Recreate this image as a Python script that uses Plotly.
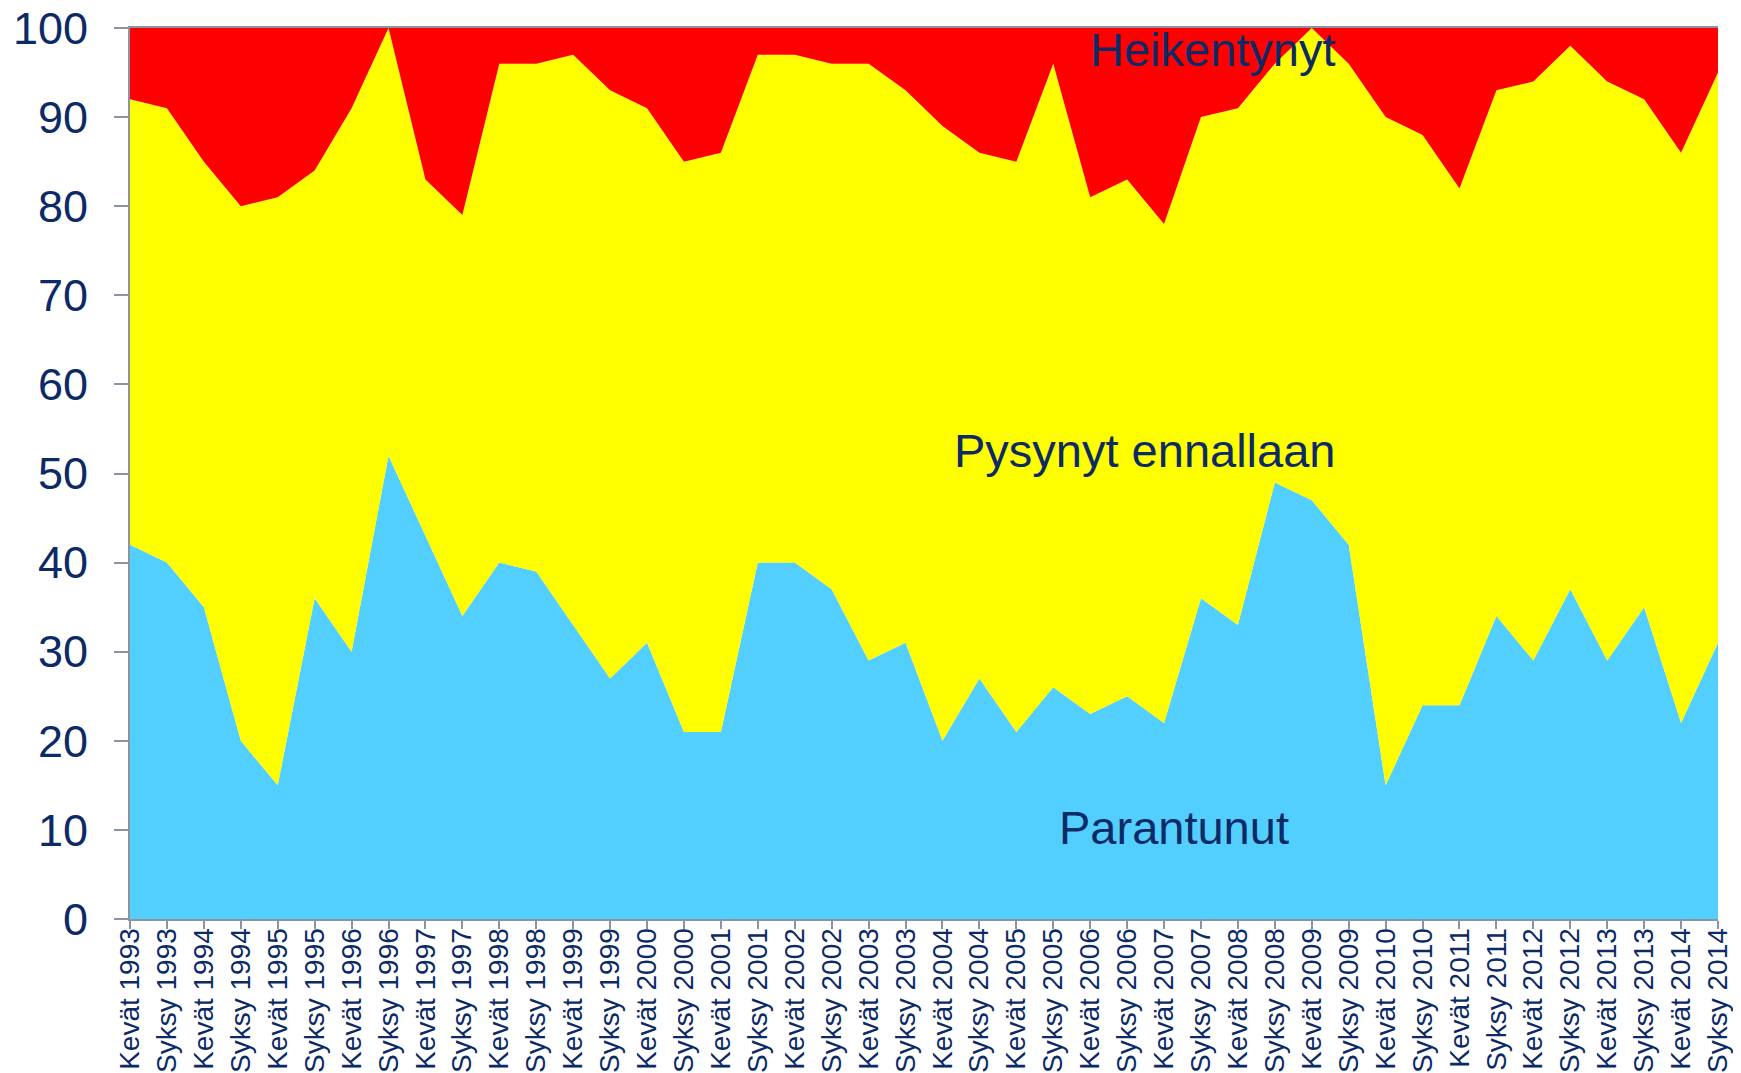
import plotly.graph_objects as go

categories = [
    "Kevät 1993", "Syksy 1993", "Kevät 1994", "Syksy 1994", "Kevät 1995", "Syksy 1995",
    "Kevät 1996", "Syksy 1996", "Kevät 1997", "Syksy 1997", "Kevät 1998", "Syksy 1998",
    "Kevät 1999", "Syksy 1999", "Kevät 2000", "Syksy 2000", "Kevät 2001", "Syksy 2001",
    "Kevät 2002", "Syksy 2002", "Kevät 2003", "Syksy 2003", "Kevät 2004", "Syksy 2004",
    "Kevät 2005", "Syksy 2005", "Kevät 2006", "Syksy 2006", "Kevät 2007", "Syksy 2007",
    "Kevät 2008", "Syksy 2008", "Kevät 2009", "Syksy 2009", "Kevät 2010", "Syksy 2010",
    "Kevät 2011", "Syksy 2011", "Kevät 2012", "Syksy 2012", "Kevät 2013", "Syksy 2013",
    "Kevät 2014", "Syksy 2014",
]

parantunut = [42, 40, 35, 20, 15, 36, 30, 52, 43, 34, 40, 39,
              33, 27, 31, 21, 21, 40, 40, 37, 29, 31, 20, 27,
              21, 26, 23, 25, 22, 36, 33, 49, 47, 42, 15, 24,
              24, 34, 29, 37, 29, 35, 22, 31]

pysynyt_ennallaan = [50, 51, 50, 60, 66, 48, 61, 48, 40, 45, 56, 57,
                     64, 66, 60, 64, 65, 57, 57, 59, 67, 62, 69, 59,
                     64, 70, 58, 58, 56, 54, 58, 47, 53, 54, 75, 64,
                     58, 59, 65, 61, 65, 57, 64, 64]

heikentynyt = [8, 9, 15, 20, 19, 16, 9, 0, 17, 21, 4, 4,
               3, 7, 9, 15, 14, 3, 3, 4, 4, 7, 11, 14,
               15, 4, 19, 17, 22, 10, 9, 4, 0, 4, 10, 12,
               18, 7, 6, 2, 6, 8, 14, 5]

y_ticks = [0, 10, 20, 30, 40, 50, 60, 70, 80, 90, 100]

series_names = ["Parantunut", "Pysynyt ennallaan", "Heikentynyt"]
colors = ["#53CFFF", "#FFFF00", "#FF0000"]

NAVY = "#0C2A66"
AXIS_GREY = "#8C93A3"
FONT = "Liberation Sans, Arial, sans-serif"

fig = go.Figure()
for name, vals, col in zip(series_names, [parantunut, pysynyt_ennallaan, heikentynyt], colors):
    fig.add_trace(go.Scatter(
        x=categories, y=vals, name=name, stackgroup="one", mode="none",
        fillcolor=col, line=dict(width=0), showlegend=False,
    ))

# series labels placed inside the areas
fig.add_annotation(x=32.7, y=97.6, xref="x", yref="y", text="Heikentynyt",
                   showarrow=False, xanchor="right", yanchor="middle",
                   font=dict(family=FONT, size=47, color=NAVY))
fig.add_annotation(x=32.68, y=52.6, xref="x", yref="y", text="Pysynyt ennallaan",
                   showarrow=False, xanchor="right", yanchor="middle",
                   font=dict(family=FONT, size=47, color=NAVY))
fig.add_annotation(x=31.45, y=10.3, xref="x", yref="y", text="Parantunut",
                   showarrow=False, xanchor="right", yanchor="middle",
                   font=dict(family=FONT, size=47, color=NAVY))

# the page body adds an 8px offset, so the figure is sized to fit the window
fig.update_layout(
    width=1733, height=1065,
    margin=dict(l=122, r=23, t=20, b=154),
    paper_bgcolor="white", plot_bgcolor="white",
    font=dict(family=FONT, color=NAVY),
    xaxis=dict(
        type="category", range=[0, len(categories) - 1], automargin=False,
        tickmode="array", tickvals=categories, ticktext=categories,
        tickangle=-90, tickfont=dict(family=FONT, size=28, color=NAVY),
        ticks="outside", ticklen=8, tickcolor=AXIS_GREY, tickwidth=2,
        showline=True, linecolor=AXIS_GREY, linewidth=2, mirror=True,
        showgrid=False, zeroline=False, ticklabelstandoff=-12,
        ticklabeloverflow="allow",
    ),
    yaxis=dict(
        range=[0, 100], tickmode="array", tickvals=y_ticks, automargin=False,
        tickfont=dict(family=FONT, size=45, color=NAVY),
        ticks="outside", ticklen=14, tickcolor=AXIS_GREY, tickwidth=2,
        showline=True, linecolor=AXIS_GREY, linewidth=2,
        showgrid=False, zeroline=False, ticklabelstandoff=17,
        ticklabeloverflow="allow",
    ),
)

fig.write_html("out.html")
